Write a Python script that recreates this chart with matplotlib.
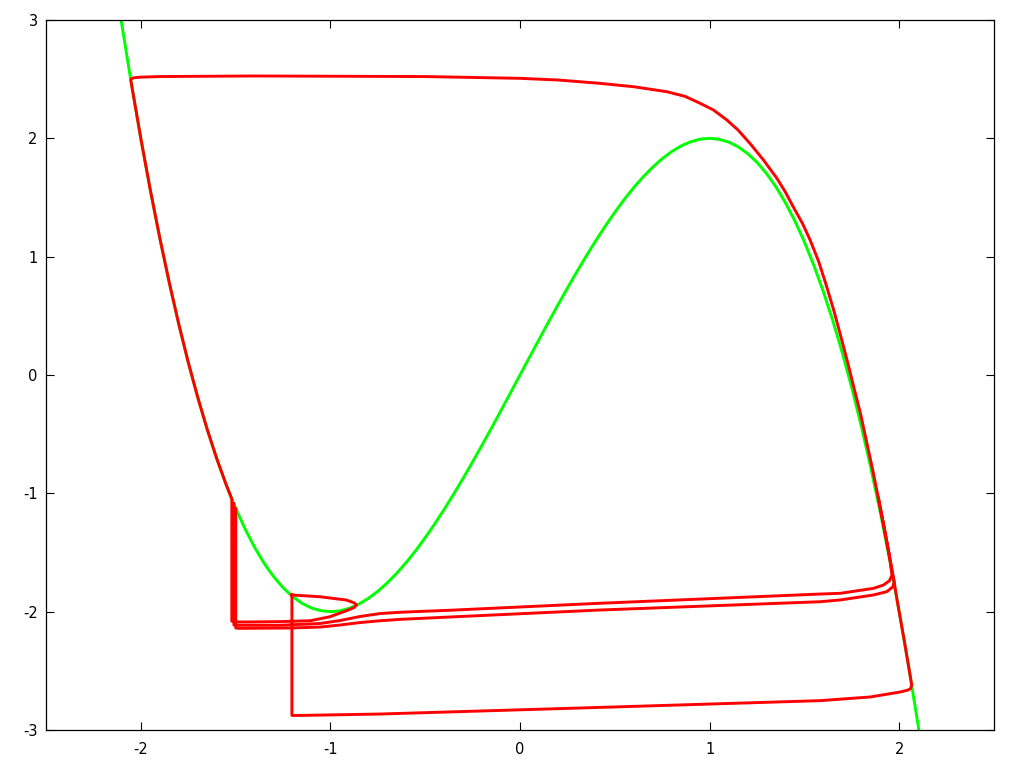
import matplotlib
matplotlib.use("Agg")
import matplotlib.pyplot as plt

# Green curve (nullcline)
green_x = [-2.20, -2.15, -2.10, -2.05, -2.00, -1.95, -1.90, -1.85, -1.80, -1.75, -1.70, -1.65,
           -1.60, -1.55, -1.50, -1.45, -1.40, -1.35, -1.30, -1.25, -1.20, -1.15, -1.10, -1.05,
           -1.00, -0.95, -0.90, -0.85, -0.80, -0.75, -0.70, -0.65, -0.60, -0.55, -0.50, -0.45,
           -0.40, -0.35, -0.30, -0.25, -0.20, -0.15, -0.10, -0.05, 0.00, 0.05, 0.10, 0.15,
           0.20, 0.25, 0.30, 0.35, 0.40, 0.45, 0.50, 0.55, 0.60, 0.65, 0.70, 0.75, 0.80,
           0.85, 0.90, 0.95, 1.00, 1.05, 1.10, 1.15, 1.20, 1.25, 1.30, 1.35, 1.40, 1.45,
           1.50, 1.55, 1.60, 1.65, 1.70, 1.75, 1.80, 1.85, 1.90, 1.95, 2.00, 2.05, 2.10,
           2.15, 2.20]
green_y = [4.048, 3.488, 2.961, 2.465, 2.000, 1.565, 1.159, 0.782, 0.432, 0.109, -0.187, -0.458,
           -0.704, -0.926, -1.125, -1.301, -1.456, -1.590, -1.703, -1.797, -1.872, -1.929, -1.969, -1.992,
           -2.000, -1.993, -1.971, -1.936, -1.888, -1.828, -1.757, -1.675, -1.584, -1.484, -1.375, -1.259,
           -1.136, -1.007, -0.873, -0.734, -0.592, -0.447, -0.299, -0.150, 0.000, 0.150, 0.299, 0.447,
           0.592, 0.734, 0.873, 1.007, 1.136, 1.259, 1.375, 1.484, 1.584, 1.675, 1.757, 1.828, 1.888,
           1.936, 1.971, 1.993, 2.000, 1.992, 1.969, 1.929, 1.872, 1.797, 1.703, 1.590, 1.456, 1.301,
           1.125, 0.926, 0.704, 0.458, 0.187, -0.109, -0.432, -0.782, -1.159, -1.565, -2.000, -2.465, -2.961,
           -3.488, -4.048]

# Red trajectory 1: main cycle
t1_x = [-1.203, -1.055, -0.915, -0.875, -0.862, -0.875, -0.915, -1.003, -1.108, -1.266, -1.425,
        -1.505, -1.520, -1.520, -1.55, -1.60, -1.65, -1.70, -1.75, -1.80, -1.85, -1.90, -1.95,
        -2.00, -2.053, -2.048, -2.035, -2.00, -1.90, -1.40, -0.50, 0.00, 0.20, 0.42, 0.60, 0.774,
        0.87, 0.95, 1.02, 1.091, 1.15, 1.214, 1.285, 1.355, 1.40, 1.445, 1.49, 1.53, 1.575, 1.615,
        1.657, 1.697, 1.73, 1.76, 1.795, 1.826, 1.86, 1.89, 1.92, 1.949, 1.968, 1.992, 2.03, 2.066,
        2.060, 2.047, 2.005, 1.847, 1.583, 0.422, -0.739, -1.161, -1.203, -1.203]
t1_y = [-1.859, -1.874, -1.902, -1.925, -1.944, -1.965, -1.992, -2.043, -2.077, -2.084, -2.087,
        -2.087, -2.080, -1.048, -0.926, -0.704, -0.458, -0.187, 0.109, 0.432, 0.782, 1.159, 1.565,
        2.000, 2.494, 2.505, 2.512, 2.517, 2.522, 2.527, 2.522, 2.507, 2.493, 2.465, 2.436, 2.394,
        2.355, 2.296, 2.240, 2.155, 2.070, 1.955, 1.815, 1.662, 1.545, 1.410, 1.280, 1.141, 0.960, 0.760,
        0.535, 0.296, 0.095, -0.100, -0.320, -0.549, -0.800, -1.040, -1.285, -1.535, -1.700, -1.930, -2.275, -2.620,
        -2.650, -2.662, -2.679, -2.721, -2.752, -2.809, -2.865, -2.877, -2.877, -1.859]

# Red trajectory 2
t2_x = [-1.509, -1.509, -1.488, -1.266, -1.055, -0.950, -0.844, -0.739, -0.633, -0.369, 0.422,
        1.583, 1.689, 1.864, 1.917, 1.949, 1.962, 1.949, 1.92, 1.89]
t2_y = [-1.087, -2.113, -2.115, -2.115, -2.100, -2.075, -2.041, -2.016, -2.005, -1.988, -1.929,
        -1.851, -1.845, -1.803, -1.775, -1.738, -1.690, -1.535, -1.285, -1.040]

# Red trajectory 3
t3_x = [-1.499, -1.499, -1.478, -1.214, -1.055, -0.950, -0.844, -0.739, -0.633, -0.369, 0.422,
        1.583, 1.689, 1.864, 1.935, 1.967, 1.974, 1.966, 1.949, 1.92, 1.89]
t3_y = [-1.129, -2.138, -2.141, -2.138, -2.130, -2.113, -2.092, -2.077, -2.065, -2.045, -1.986,
        -1.916, -1.901, -1.859, -1.831, -1.789, -1.747, -1.690, -1.535, -1.285, -1.040]

x_ticks = [-2, -1, 0, 1, 2]
y_ticks = [-3, -2, -1, 0, 1, 2, 3]

fig = plt.figure(figsize=(10.24, 7.68), dpi=100)
ax = fig.add_axes([46/1024, 38/768, 948/1024, 710/768])

lw = 2.1
ax.plot(green_x, green_y, color="#00ff00", lw=lw, solid_joinstyle="round", zorder=2)
for xs, ys in [(t3_x, t3_y), (t2_x, t2_y), (t1_x, t1_y)]:
    ax.plot(xs, ys, color="#ff0000", lw=lw, solid_joinstyle="round", zorder=3)

ax.set_xlim(-2.5, 2.5)
ax.set_ylim(-3, 3)
ax.set_xticks(x_ticks)
ax.set_yticks(y_ticks)
ax.set_xticklabels([str(v) for v in x_ticks])
ax.set_yticklabels([str(v) for v in y_ticks])
ax.tick_params(direction="in", length=6, width=0.8, top=True, right=True,
               labelsize=10.5, colors="black")
ax.tick_params(axis="x", pad=9)
ax.tick_params(axis="y", pad=6)
for s in ax.spines.values():
    s.set_linewidth(0.9)
    s.set_color("black")

fig.savefig("out.png", dpi=100)
